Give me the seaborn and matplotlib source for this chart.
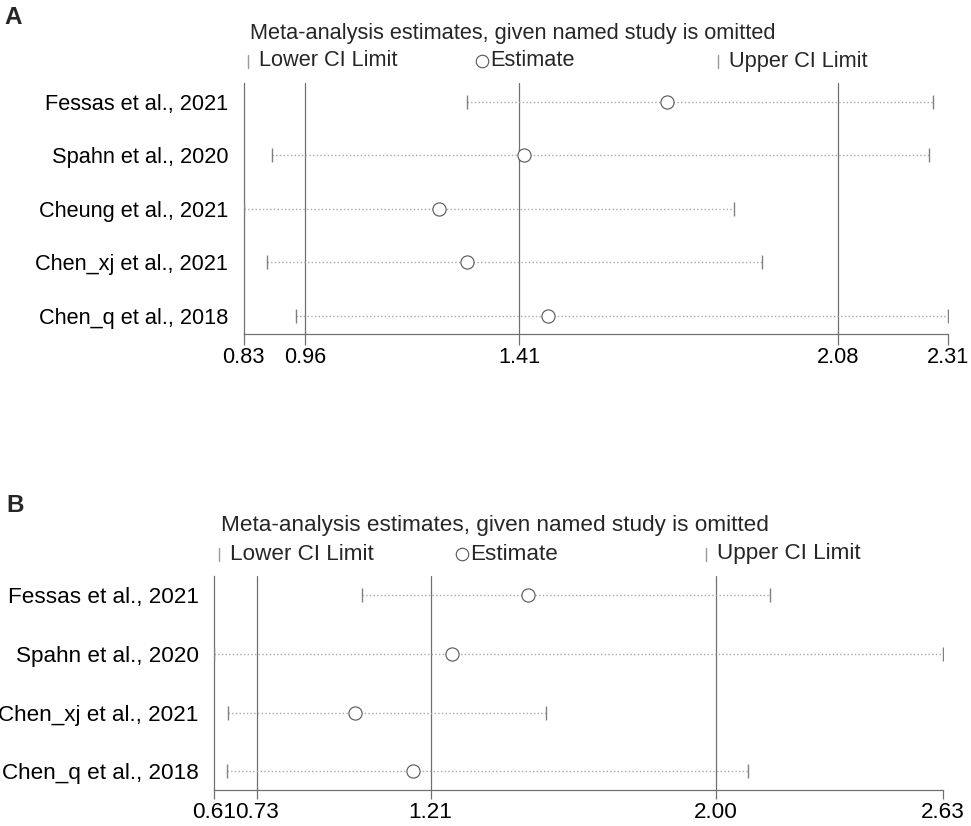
import seaborn as sns
import matplotlib.pyplot as plt
import pandas as pd

# panel A data
studies_a = ["Fessas et al., 2021", "Spahn et al., 2020", "Cheung et al., 2021",
             "Chen_xj et al., 2021", "Chen_q et al., 2018"]
est_a = [1.72, 1.42, 1.24, 1.30, 1.47]
lower_a = [1.30, 0.89, 0.83, 0.88, 0.94]
upper_a = [2.28, 2.27, 1.86, 1.92, 2.31]
ticks_a = [0.83, 0.96, 1.41, 2.08, 2.31]
ref_a = [0.96, 1.41, 2.08]

# panel B data
studies_b = ["Fessas et al., 2021", "Spahn et al., 2020",
             "Chen_xj et al., 2021", "Chen_q et al., 2018"]
est_b = [1.48, 1.27, 1.00, 1.16]
lower_b = [1.02, 0.61, 0.65, 0.645]
upper_b = [2.15, 2.63, 1.53, 2.09]
ticks_b = [0.61, 0.73, 1.21, 2.00, 2.63]
ref_b = [0.73, 1.21, 2.00]

sns.set_theme(style="white")
plt.rcParams['font.family'] = ['Liberation Sans', 'DejaVu Sans']

W, H = 971, 826
fig = plt.figure(figsize=(W / 100, H / 100), dpi=100)

LINE = '#707070'


def px(x, y):
    return x / W, 1 - y / H


def panel(box, studies, est, lower, upper, ticks, refs, ylim, letter, head, fs, ticklen):
    left, top, right, bottom = box
    ax = fig.add_axes([left / W, 1 - bottom / H, (right - left) / W, (bottom - top) / H])
    df = pd.DataFrame({"study": studies, "est": est, "lower": lower, "upper": upper})
    df["pos"] = range(1, len(df) + 1)

    for r in refs:
        ax.axvline(r, color=LINE, lw=0.9, zorder=1)
    ax.hlines(df["pos"], df["lower"], df["upper"], colors='#a8a8a8', linestyles=':', lw=1, zorder=2)
    ax.plot(df["lower"], df["pos"], ls='none', marker='|', ms=10, mew=1, color='#808080', zorder=3)
    ax.plot(df["upper"], df["pos"], ls='none', marker='|', ms=10, mew=1, color='#808080', zorder=3)
    sns.scatterplot(data=df, x="est", y="pos", ax=ax, s=90, facecolor='white',
                    edgecolor='#555555', linewidth=0.8, zorder=4, legend=False)

    ax.set_xlim(ticks[0], ticks[-1])
    ax.set_ylim(*ylim)
    ax.set_yticks(df["pos"])
    ax.set_yticklabels(studies, fontsize=fs, color='black')
    ax.tick_params(axis='y', length=0, pad=11)
    ax.set_xticks(ticks)
    ax.set_xticklabels([f"{t:.2f}" for t in ticks], fontsize=fs, color='black')
    ax.tick_params(axis='x', length=ticklen, width=0.9, color=LINE, pad=1.5, bottom=True)
    ax.set_xlabel("")
    ax.set_ylabel("")
    for s in ["top", "right"]:
        ax.spines[s].set_visible(False)
    for s in ["left", "bottom"]:
        ax.spines[s].set_color(LINE)
        ax.spines[s].set_linewidth(0.9)

    # panel letter, header and legend row
    name, lx, ly = letter
    fig.text(*px(lx, ly), name, fontsize=17.5, fontweight='bold', va='center', ha='left')
    tx, ty, ry, lo_x, est_x, up_x = head
    fig.text(*px(tx, ty), "Meta-analysis estimates, given named study is omitted",
             fontsize=fs, va='center', ha='left')
    fig.lines.append(plt.Line2D(*zip(px(lo_x, ry - 6), px(lo_x, ry + 7)),
                                transform=fig.transFigure, color='#999999', lw=1))
    fig.text(*px(lo_x + 11, ry), "Lower CI Limit", fontsize=fs, va='center', ha='left')
    fig.lines.append(plt.Line2D([px(est_x, ry)[0]], [px(est_x, ry)[1]], marker='o', ms=9,
                                mfc='white', mec='#555555', mew=0.8, transform=fig.transFigure))
    fig.text(*px(est_x + 8, ry), "Estimate", fontsize=fs, va='center', ha='left')
    fig.lines.append(plt.Line2D(*zip(px(up_x, ry - 6), px(up_x, ry + 7)),
                                transform=fig.transFigure, color='#999999', lw=1))
    fig.text(*px(up_x + 11, ry), "Upper CI Limit", fontsize=fs, va='center', ha='left')
    return ax


panel((243.5, 83, 947.7, 334), studies_a, est_a, lower_a, upper_a, ticks_a, ref_a,
      (5.34, 0.65), ("A", 4, 18), (250, 33, 61, 248, 482, 718), 15.7, 8.2)
panel((214, 576, 943.3, 790), studies_b, est_b, lower_b, upper_b, ticks_b, ref_b,
      (4.32, 0.67), ("B", 6, 506), (221, 526, 554, 219, 462, 706), 16.2, 6.8)

fig.savefig("out.png", dpi=100)
